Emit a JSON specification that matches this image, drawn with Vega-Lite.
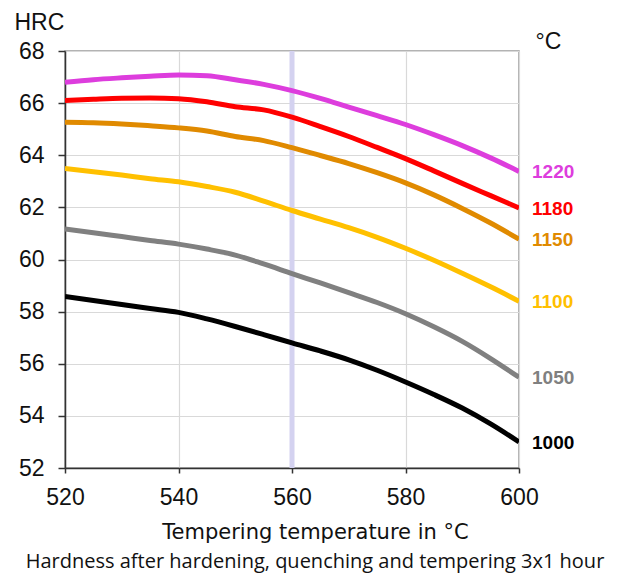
{
  "$schema": "https://vega.github.io/schema/vega-lite/v6.json",
  "autosize": "none",
  "width": 454,
  "height": 417,
  "padding": {"left": 65, "top": 51, "right": 106, "bottom": 107},
  "background": "white",
  "config": {
    "view": {"stroke": "#9a9a9a", "strokeWidth": 1.5},
    "font": "Liberation Sans"
  },
  "title": {
    "text": "Hardness after hardening, quenching and tempering  3x1 hour",
    "orient": "bottom", "anchor": "middle", "dx": 23, "offset": 10,
    "font": "Open Sans", "fontSize": 20, "fontWeight": "normal", "color": "#111"
  },
  "datasets": {
    "curves": [
      {"t": 520, "hrc": 66.8, "s": "1220"}, {"t": 525, "hrc": 66.9, "s": "1220"}, {"t": 530, "hrc": 66.97, "s": "1220"}, {"t": 535, "hrc": 67.03, "s": "1220"}, {"t": 540, "hrc": 67.08, "s": "1220"}, {"t": 545, "hrc": 67.05, "s": "1220"}, {"t": 550, "hrc": 66.9, "s": "1220"}, {"t": 555, "hrc": 66.72, "s": "1220"}, {"t": 560, "hrc": 66.48, "s": "1220"}, {"t": 565, "hrc": 66.18, "s": "1220"}, {"t": 570, "hrc": 65.85, "s": "1220"}, {"t": 575, "hrc": 65.52, "s": "1220"}, {"t": 580, "hrc": 65.18, "s": "1220"}, {"t": 585, "hrc": 64.79, "s": "1220"}, {"t": 590, "hrc": 64.37, "s": "1220"}, {"t": 595, "hrc": 63.9, "s": "1220"}, {"t": 600, "hrc": 63.38, "s": "1220"},
      {"t": 520, "hrc": 66.1, "s": "1180"}, {"t": 525, "hrc": 66.15, "s": "1180"}, {"t": 530, "hrc": 66.19, "s": "1180"}, {"t": 535, "hrc": 66.2, "s": "1180"}, {"t": 540, "hrc": 66.17, "s": "1180"}, {"t": 545, "hrc": 66.05, "s": "1180"}, {"t": 550, "hrc": 65.86, "s": "1180"}, {"t": 555, "hrc": 65.74, "s": "1180"}, {"t": 560, "hrc": 65.46, "s": "1180"}, {"t": 565, "hrc": 65.1, "s": "1180"}, {"t": 570, "hrc": 64.72, "s": "1180"}, {"t": 575, "hrc": 64.3, "s": "1180"}, {"t": 580, "hrc": 63.87, "s": "1180"}, {"t": 585, "hrc": 63.4, "s": "1180"}, {"t": 590, "hrc": 62.92, "s": "1180"}, {"t": 595, "hrc": 62.45, "s": "1180"}, {"t": 600, "hrc": 61.98, "s": "1180"},
      {"t": 520, "hrc": 65.27, "s": "1150"}, {"t": 525, "hrc": 65.25, "s": "1150"}, {"t": 530, "hrc": 65.2, "s": "1150"}, {"t": 535, "hrc": 65.13, "s": "1150"}, {"t": 540, "hrc": 65.05, "s": "1150"}, {"t": 545, "hrc": 64.93, "s": "1150"}, {"t": 550, "hrc": 64.72, "s": "1150"}, {"t": 555, "hrc": 64.56, "s": "1150"}, {"t": 560, "hrc": 64.29, "s": "1150"}, {"t": 565, "hrc": 63.99, "s": "1150"}, {"t": 570, "hrc": 63.68, "s": "1150"}, {"t": 575, "hrc": 63.33, "s": "1150"}, {"t": 580, "hrc": 62.94, "s": "1150"}, {"t": 585, "hrc": 62.48, "s": "1150"}, {"t": 590, "hrc": 61.96, "s": "1150"}, {"t": 595, "hrc": 61.4, "s": "1150"}, {"t": 600, "hrc": 60.78, "s": "1150"},
      {"t": 520, "hrc": 63.49, "s": "1100"}, {"t": 525, "hrc": 63.37, "s": "1100"}, {"t": 530, "hrc": 63.24, "s": "1100"}, {"t": 535, "hrc": 63.1, "s": "1100"}, {"t": 540, "hrc": 62.98, "s": "1100"}, {"t": 545, "hrc": 62.8, "s": "1100"}, {"t": 550, "hrc": 62.58, "s": "1100"}, {"t": 555, "hrc": 62.24, "s": "1100"}, {"t": 560, "hrc": 61.88, "s": "1100"}, {"t": 565, "hrc": 61.55, "s": "1100"}, {"t": 570, "hrc": 61.22, "s": "1100"}, {"t": 575, "hrc": 60.85, "s": "1100"}, {"t": 580, "hrc": 60.43, "s": "1100"}, {"t": 585, "hrc": 59.97, "s": "1100"}, {"t": 590, "hrc": 59.47, "s": "1100"}, {"t": 595, "hrc": 58.95, "s": "1100"}, {"t": 600, "hrc": 58.4, "s": "1100"},
      {"t": 520, "hrc": 61.17, "s": "1050"}, {"t": 525, "hrc": 61.03, "s": "1050"}, {"t": 530, "hrc": 60.88, "s": "1050"}, {"t": 535, "hrc": 60.73, "s": "1050"}, {"t": 540, "hrc": 60.59, "s": "1050"}, {"t": 545, "hrc": 60.4, "s": "1050"}, {"t": 550, "hrc": 60.17, "s": "1050"}, {"t": 555, "hrc": 59.83, "s": "1050"}, {"t": 560, "hrc": 59.46, "s": "1050"}, {"t": 565, "hrc": 59.1, "s": "1050"}, {"t": 570, "hrc": 58.73, "s": "1050"}, {"t": 575, "hrc": 58.35, "s": "1050"}, {"t": 580, "hrc": 57.92, "s": "1050"}, {"t": 585, "hrc": 57.42, "s": "1050"}, {"t": 590, "hrc": 56.86, "s": "1050"}, {"t": 595, "hrc": 56.2, "s": "1050"}, {"t": 600, "hrc": 55.48, "s": "1050"},
      {"t": 520, "hrc": 58.58, "s": "1000"}, {"t": 525, "hrc": 58.43, "s": "1000"}, {"t": 530, "hrc": 58.27, "s": "1000"}, {"t": 535, "hrc": 58.12, "s": "1000"}, {"t": 540, "hrc": 57.97, "s": "1000"}, {"t": 545, "hrc": 57.72, "s": "1000"}, {"t": 550, "hrc": 57.43, "s": "1000"}, {"t": 555, "hrc": 57.12, "s": "1000"}, {"t": 560, "hrc": 56.8, "s": "1000"}, {"t": 565, "hrc": 56.49, "s": "1000"}, {"t": 570, "hrc": 56.15, "s": "1000"}, {"t": 575, "hrc": 55.75, "s": "1000"}, {"t": 580, "hrc": 55.3, "s": "1000"}, {"t": 585, "hrc": 54.82, "s": "1000"}, {"t": 590, "hrc": 54.3, "s": "1000"}, {"t": 595, "hrc": 53.69, "s": "1000"}, {"t": 600, "hrc": 53.0, "s": "1000"}
    ],
    "marker": [{"t": 560}]
  },
  "layer": [
    {
      "data": {"name": "marker"},
      "mark": {"type": "rule", "color": "#d4d2f0", "strokeWidth": 5},
      "encoding": {
        "x": {"field": "t", "type": "quantitative", "scale": {"domain": [520, 600], "nice": false}}
      }
    },
    {
      "data": {"name": "curves"},
      "mark": {"type": "line", "strokeWidth": 5, "interpolate": "monotone", "clip": true},
      "encoding": {
        "x": {
          "field": "t", "type": "quantitative",
          "scale": {"domain": [520, 600], "nice": false},
          "axis": {
            "values": [520, 540, 560, 580, 600],
            "title": "Tempering temperature in °C",
            "titleFont": "DejaVu Sans", "titleFontSize": 21, "titleFontWeight": "normal", "titleColor": "#111",
            "titleBaseline": "alphabetic", "titleX": 250, "titleY": 70, "titleAnchor": null,
            "labelFont": "Liberation Sans", "labelFontSize": 23, "labelColor": "#111", "labelPadding": 13, "labelFlush": false,
            "tickSize": 5, "tickColor": "#333", "tickWidth": 1.5,
            "domainColor": "#333", "domainWidth": 1.5,
            "grid": true, "gridColor": "#d9d9d9", "gridWidth": 1.2
          }
        },
        "y": {
          "field": "hrc", "type": "quantitative",
          "scale": {"domain": [52, 68], "nice": false, "zero": false},
          "axis": {
            "values": [52, 54, 56, 58, 60, 62, 64, 66, 68],
            "title": "HRC", "titleAngle": 0, "titleAlign": "left", "titleBaseline": "alphabetic",
            "titleX": -51, "titleY": -22, "titleFont": "Liberation Sans", "titleFontSize": 23, "titleFontWeight": "normal", "titleColor": "#111",
            "labelFont": "Liberation Sans", "labelFontSize": 23, "labelColor": "#111", "labelPadding": 14, "labelFlush": false,
            "tickSize": 7, "tickColor": "#333", "tickWidth": 1.5,
            "domainColor": "#333", "domainWidth": 1.5,
            "grid": true, "gridColor": "#d9d9d9", "gridWidth": 1.2
          }
        },
        "color": {
          "field": "s", "type": "nominal",
          "scale": {"domain": ["1220", "1180", "1150", "1100", "1050", "1000"], "range": ["#dd3ddd", "#ff0000", "#e08a00", "#ffc000", "#808080", "#000000"]},
          "legend": null
        },
        "detail": {"field": "s"}
      }
    },
    {
      "data": {"name": "curves"},
      "transform": [{"filter": "datum.t == 600"}],
      "mark": {"type": "text", "align": "left", "baseline": "middle", "dx": 13, "dy": 1, "fontSize": 19, "fontWeight": "bold", "font": "Liberation Sans"},
      "encoding": {
        "x": {"field": "t", "type": "quantitative", "scale": {"domain": [520, 600], "nice": false}},
        "y": {
          "field": "hrc", "type": "quantitative", "scale": {"domain": [52, 68], "nice": false, "zero": false},
          "axis": {
            "orient": "right", "labels": false, "ticks": false, "domain": false, "grid": false,
            "title": "°C", "titleAngle": 0, "titleAlign": "left", "titleBaseline": "alphabetic",
            "titleX": 16, "titleY": -3, "titleFont": "Liberation Sans", "titleFontSize": 23, "titleFontWeight": "normal", "titleColor": "#111"
          }
        },
        "text": {"field": "s"},
        "color": {
          "field": "s", "type": "nominal",
          "scale": {"domain": ["1220", "1180", "1150", "1100", "1050", "1000"], "range": ["#dd3ddd", "#ff0000", "#e08a00", "#ffc000", "#808080", "#000000"]},
          "legend": null
        }
      }
    }
  ],
  "resolve": {"axis": {"y": "independent"}}
}
